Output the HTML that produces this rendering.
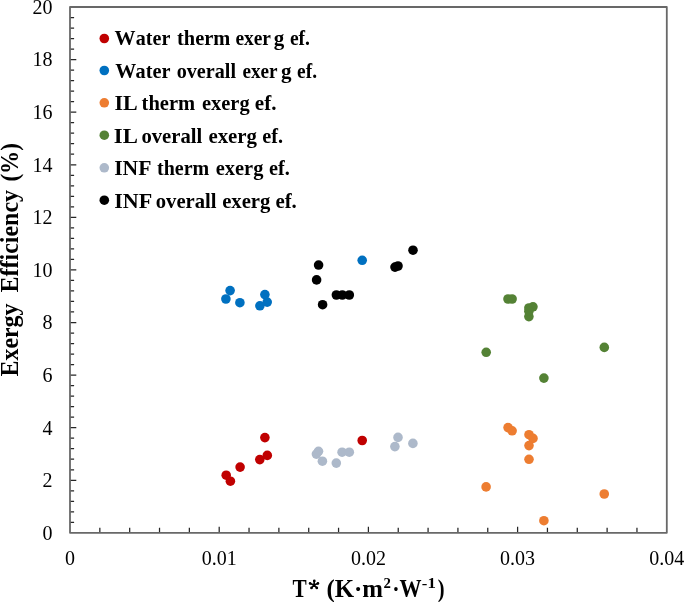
<!DOCTYPE html><html><head><meta charset="utf-8"><style>html,body{margin:0;padding:0;background:#fff;}svg{display:block;will-change:transform;}text{font-family:"Liberation Serif",serif;}</style></head><body>
<svg width="685" height="602" viewBox="0 0 685 602">
<rect width="685" height="602" fill="#fff"/>
<g id="axes"><path d="M70.00 522.33h4.1 M70.00 511.82h4.1 M70.00 501.30h4.1 M70.00 490.78h4.1 M70.00 480.27h6.3 M70.00 469.75h4.1 M70.00 459.23h4.1 M70.00 448.71h4.1 M70.00 438.20h4.1 M70.00 427.68h6.3 M70.00 417.16h4.1 M70.00 406.65h4.1 M70.00 396.13h4.1 M70.00 385.61h4.1 M70.00 375.10h6.3 M70.00 364.58h4.1 M70.00 354.06h4.1 M70.00 343.54h4.1 M70.00 333.03h4.1 M70.00 322.51h6.3 M70.00 311.99h4.1 M70.00 301.48h4.1 M70.00 290.96h4.1 M70.00 280.44h4.1 M70.00 269.93h6.3 M70.00 259.41h4.1 M70.00 248.89h4.1 M70.00 238.37h4.1 M70.00 227.86h4.1 M70.00 217.34h6.3 M70.00 206.82h4.1 M70.00 196.31h4.1 M70.00 185.79h4.1 M70.00 175.27h4.1 M70.00 164.75h6.3 M70.00 154.24h4.1 M70.00 143.72h4.1 M70.00 133.20h4.1 M70.00 122.69h4.1 M70.00 112.17h6.3 M70.00 101.65h4.1 M70.00 91.14h4.1 M70.00 80.62h4.1 M70.00 70.10h4.1 M70.00 59.59h6.3 M70.00 49.07h4.1 M70.00 38.55h4.1 M70.00 28.03h4.1 M70.00 17.52h4.1 M99.84 532.85v-5.2 M129.68 532.85v-5.2 M159.52 532.85v-5.2 M189.36 532.85v-5.2 M219.20 532.85v-6.0 M249.04 532.85v-5.2 M278.88 532.85v-5.2 M308.72 532.85v-5.2 M338.56 532.85v-5.2 M368.40 532.85v-6.0 M398.24 532.85v-5.2 M428.08 532.85v-5.2 M457.92 532.85v-5.2 M487.76 532.85v-5.2 M517.60 532.85v-6.0 M547.44 532.85v-5.2 M577.28 532.85v-5.2 M607.12 532.85v-5.2 M636.96 532.85v-5.2" stroke="#262626" stroke-width="1.25" fill="none"/>
<rect x="70.0" y="7.0" width="596.80" height="525.85" fill="none" stroke="#686868" stroke-width="1.8" stroke-linejoin="round"/></g>
<text x="52.6" y="539.75" font-size="20" text-anchor="end">0</text>
<text x="52.6" y="487.17" font-size="20" text-anchor="end">2</text>
<text x="52.6" y="434.58" font-size="20" text-anchor="end">4</text>
<text x="52.6" y="382.00" font-size="20" text-anchor="end">6</text>
<text x="52.6" y="329.41" font-size="20" text-anchor="end">8</text>
<text x="52.6" y="276.82" font-size="20" text-anchor="end">10</text>
<text x="52.6" y="224.24" font-size="20" text-anchor="end">12</text>
<text x="52.6" y="171.66" font-size="20" text-anchor="end">14</text>
<text x="52.6" y="119.07" font-size="20" text-anchor="end">16</text>
<text x="52.6" y="66.48" font-size="20" text-anchor="end">18</text>
<text x="52.6" y="13.90" font-size="20" text-anchor="end">20</text>
<text x="70.00" y="564.8" font-size="20" text-anchor="middle">0</text>
<text x="219.20" y="564.8" font-size="20" text-anchor="middle">0.01</text>
<text x="368.40" y="564.8" font-size="20" text-anchor="middle">0.02</text>
<text x="517.60" y="564.8" font-size="20" text-anchor="middle">0.03</text>
<text x="666.80" y="564.8" font-size="20" text-anchor="middle">0.04</text>
<path d="M314.0 585.0L314.3 580.9 M314.0 585.0L317.9 583.4 M314.0 585.0L310.1 583.4 M314.0 585.0L316.8 587.9 M314.0 585.0L311.5 587.9" stroke="#000" stroke-width="1.6" stroke-linecap="round" fill="none"/>
<circle cx="314.3" cy="580.9" r="1.35" fill="#000"/>
<circle cx="317.9" cy="583.4" r="1.35" fill="#000"/>
<circle cx="310.1" cy="583.4" r="1.35" fill="#000"/>
<circle cx="316.8" cy="587.9" r="1.35" fill="#000"/>
<circle cx="311.5" cy="587.9" r="1.35" fill="#000"/>
<text id="xt1" x="292.40" y="597" font-size="24.8" font-weight="bold" textLength="14.20" lengthAdjust="spacingAndGlyphs">T</text>
<text id="xt2" x="326.40" y="597" font-size="24.8" font-weight="bold" textLength="56.60" lengthAdjust="spacingAndGlyphs">(K·m</text>
<text id="xt3" x="383.40" y="588.3" font-size="15.5" font-weight="bold" textLength="7.40" lengthAdjust="spacingAndGlyphs">2</text>
<text id="xt4" x="392.20" y="597" font-size="24.8" font-weight="bold" textLength="29.40" lengthAdjust="spacingAndGlyphs">·W</text>
<text id="xt5" x="421.80" y="588.3" font-size="15.5" font-weight="bold" textLength="14.00" lengthAdjust="spacingAndGlyphs">-1</text>
<text id="xt6" x="437.80" y="597" font-size="24.8" font-weight="bold" textLength="6.80" lengthAdjust="spacingAndGlyphs">)</text>
<text id="yt1" transform="translate(18.00,0) rotate(-90)" x="-376.40" y="0" font-size="24.8" font-weight="bold" textLength="72.80" lengthAdjust="spacingAndGlyphs">Exergy</text>
<text id="yt2" transform="translate(18.00,0) rotate(-90)" x="-292.40" y="0" font-size="24.8" font-weight="bold" textLength="102.40" lengthAdjust="spacingAndGlyphs">Efficiency</text>
<text id="yt3" transform="translate(18.00,0) rotate(-90)" x="-181.60" y="0" font-size="24.8" font-weight="bold" textLength="38.60" lengthAdjust="spacingAndGlyphs">(%)</text>
<circle cx="226.2" cy="475.2" r="4.8" fill="#C00000"/>
<circle cx="230.4" cy="481.2" r="4.8" fill="#C00000"/>
<circle cx="240.1" cy="467.1" r="4.8" fill="#C00000"/>
<circle cx="259.8" cy="459.6" r="4.8" fill="#C00000"/>
<circle cx="264.9" cy="437.6" r="4.8" fill="#C00000"/>
<circle cx="267.3" cy="455.4" r="4.8" fill="#C00000"/>
<circle cx="362.2" cy="440.5" r="4.8" fill="#C00000"/>
<circle cx="225.9" cy="299" r="4.8" fill="#0070C0"/>
<circle cx="230.1" cy="290.6" r="4.8" fill="#0070C0"/>
<circle cx="239.9" cy="302.7" r="4.8" fill="#0070C0"/>
<circle cx="259.9" cy="305.8" r="4.8" fill="#0070C0"/>
<circle cx="264.9" cy="294.6" r="4.8" fill="#0070C0"/>
<circle cx="267.2" cy="302.1" r="4.8" fill="#0070C0"/>
<circle cx="362.2" cy="260.3" r="4.8" fill="#0070C0"/>
<circle cx="486.1" cy="486.9" r="4.8" fill="#ED7D31"/>
<circle cx="508.05" cy="427.6" r="4.8" fill="#ED7D31"/>
<circle cx="512.1" cy="430.8" r="4.8" fill="#ED7D31"/>
<circle cx="529" cy="434.7" r="4.8" fill="#ED7D31"/>
<circle cx="533" cy="438.4" r="4.8" fill="#ED7D31"/>
<circle cx="529" cy="445.6" r="4.8" fill="#ED7D31"/>
<circle cx="529" cy="459.3" r="4.8" fill="#ED7D31"/>
<circle cx="543.9" cy="520.7" r="4.8" fill="#ED7D31"/>
<circle cx="604.26" cy="494.0" r="4.8" fill="#ED7D31"/>
<circle cx="486.2" cy="352.3" r="4.8" fill="#548235"/>
<circle cx="508" cy="299" r="4.8" fill="#548235"/>
<circle cx="512.1" cy="299" r="4.8" fill="#548235"/>
<circle cx="528.9" cy="308" r="4.8" fill="#548235"/>
<circle cx="532.95" cy="306.8" r="4.8" fill="#548235"/>
<circle cx="528.9" cy="316.6" r="4.8" fill="#548235"/>
<circle cx="528.9" cy="311.2" r="4.8" fill="#548235"/>
<circle cx="543.9" cy="378.1" r="4.8" fill="#548235"/>
<circle cx="604.3" cy="347.4" r="4.8" fill="#548235"/>
<circle cx="318.5" cy="451.3" r="4.8" fill="#ADB9CA"/>
<circle cx="316.4" cy="454.1" r="4.8" fill="#ADB9CA"/>
<circle cx="322.4" cy="461.2" r="4.8" fill="#ADB9CA"/>
<circle cx="336.3" cy="463.1" r="4.8" fill="#ADB9CA"/>
<circle cx="342.1" cy="452.2" r="4.8" fill="#ADB9CA"/>
<circle cx="349.3" cy="452.2" r="4.8" fill="#ADB9CA"/>
<circle cx="394.9" cy="446.6" r="4.8" fill="#ADB9CA"/>
<circle cx="398" cy="437.4" r="4.8" fill="#ADB9CA"/>
<circle cx="412.9" cy="443.4" r="4.8" fill="#ADB9CA"/>
<circle cx="318.6" cy="265.05" r="4.8" fill="#000000"/>
<circle cx="316.6" cy="279.9" r="4.8" fill="#000000"/>
<circle cx="322.6" cy="304.7" r="4.8" fill="#000000"/>
<circle cx="336.4" cy="295" r="4.8" fill="#000000"/>
<circle cx="342.3" cy="295" r="4.8" fill="#000000"/>
<circle cx="349.3" cy="295" r="4.8" fill="#000000"/>
<circle cx="395" cy="267.1" r="4.8" fill="#000000"/>
<circle cx="398" cy="266" r="4.8" fill="#000000"/>
<circle cx="413" cy="250.2" r="4.8" fill="#000000"/>
<circle cx="104.3" cy="38.5" r="4.8" fill="#C00000"/>
<text id="lg0_0" x="114.50" y="44.90" font-size="21" font-weight="bold">W</text>
<text id="lg0_1" x="135.80" y="44.90" font-size="21" font-weight="bold" textLength="34.50" lengthAdjust="spacingAndGlyphs">ater</text>
<text id="lg0_2" x="177.00" y="44.90" font-size="21" font-weight="bold" textLength="53.30" lengthAdjust="spacingAndGlyphs">therm</text>
<text id="lg0_3" x="235.40" y="44.90" font-size="21" font-weight="bold" textLength="35.60" lengthAdjust="spacingAndGlyphs">exer</text>
<text id="lg0_4" x="273.70" y="44.90" font-size="21" font-weight="bold">g</text>
<text id="lg0_5" x="289.90" y="44.90" font-size="21" font-weight="bold" textLength="20.10" lengthAdjust="spacingAndGlyphs">ef.</text>
<circle cx="104.3" cy="70.5" r="4.8" fill="#0070C0"/>
<text id="lg1_0" x="115.30" y="77.50" font-size="21" font-weight="bold">W</text>
<text id="lg1_1" x="135.60" y="77.50" font-size="21" font-weight="bold" textLength="34.90" lengthAdjust="spacingAndGlyphs">ater</text>
<text id="lg1_2" x="176.70" y="77.50" font-size="21" font-weight="bold" textLength="59.30" lengthAdjust="spacingAndGlyphs">overall</text>
<text id="lg1_3" x="242.40" y="77.50" font-size="21" font-weight="bold" textLength="35.10" lengthAdjust="spacingAndGlyphs">exer</text>
<text id="lg1_4" x="281.10" y="77.50" font-size="21" font-weight="bold">g</text>
<text id="lg1_5" x="297.10" y="77.50" font-size="21" font-weight="bold" textLength="19.90" lengthAdjust="spacingAndGlyphs">ef.</text>
<circle cx="104.3" cy="102.8" r="4.8" fill="#ED7D31"/>
<text id="lg2_0" x="114.40" y="110.10" font-size="21" font-weight="bold" textLength="23.20" lengthAdjust="spacingAndGlyphs">IL</text>
<text id="lg2_1" x="141.60" y="110.10" font-size="21" font-weight="bold" textLength="53.60" lengthAdjust="spacingAndGlyphs">therm</text>
<text id="lg2_2" x="202.00" y="110.10" font-size="21" font-weight="bold" textLength="47.60" lengthAdjust="spacingAndGlyphs">exerg</text>
<text id="lg2_3" x="254.80" y="110.10" font-size="21" font-weight="bold" textLength="21.60" lengthAdjust="spacingAndGlyphs">ef.</text>
<circle cx="104.3" cy="135.2" r="4.8" fill="#548235"/>
<text id="lg3_0" x="113.80" y="142.50" font-size="21" font-weight="bold" textLength="24.00" lengthAdjust="spacingAndGlyphs">IL</text>
<text id="lg3_1" x="141.40" y="142.50" font-size="21" font-weight="bold" textLength="60.80" lengthAdjust="spacingAndGlyphs">overall</text>
<text id="lg3_2" x="208.40" y="142.50" font-size="21" font-weight="bold" textLength="48.60" lengthAdjust="spacingAndGlyphs">exerg</text>
<text id="lg3_3" x="262.20" y="142.50" font-size="21" font-weight="bold" textLength="20.80" lengthAdjust="spacingAndGlyphs">ef.</text>
<circle cx="104.3" cy="167.8" r="4.8" fill="#ADB9CA"/>
<text id="lg4_0" x="114.20" y="175.00" font-size="21" font-weight="bold" textLength="37.20" lengthAdjust="spacingAndGlyphs">INF</text>
<text id="lg4_1" x="157.00" y="175.00" font-size="21" font-weight="bold" textLength="52.20" lengthAdjust="spacingAndGlyphs">therm</text>
<text id="lg4_2" x="215.80" y="175.00" font-size="21" font-weight="bold" textLength="47.60" lengthAdjust="spacingAndGlyphs">exerg</text>
<text id="lg4_3" x="269.00" y="175.00" font-size="21" font-weight="bold" textLength="20.80" lengthAdjust="spacingAndGlyphs">ef.</text>
<circle cx="104.3" cy="200.2" r="4.8" fill="#000000"/>
<text id="lg5_0" x="114.20" y="207.60" font-size="21" font-weight="bold" textLength="38.00" lengthAdjust="spacingAndGlyphs">INF</text>
<text id="lg5_1" x="155.80" y="207.60" font-size="21" font-weight="bold" textLength="60.80" lengthAdjust="spacingAndGlyphs">overall</text>
<text id="lg5_2" x="222.20" y="207.60" font-size="21" font-weight="bold" textLength="48.20" lengthAdjust="spacingAndGlyphs">exerg</text>
<text id="lg5_3" x="275.40" y="207.60" font-size="21" font-weight="bold" textLength="21.40" lengthAdjust="spacingAndGlyphs">ef.</text>
</svg></body></html>
